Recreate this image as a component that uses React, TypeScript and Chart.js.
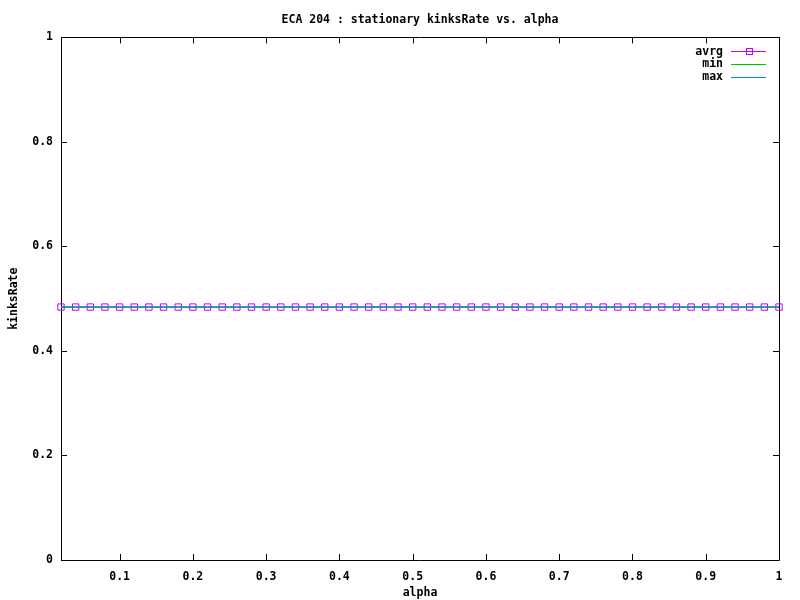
import { useEffect, useRef } from "react";
import { Chart, registerables } from "chart.js";

Chart.register(...registerables);

const titleText = "ECA 204 : stationary kinksRate vs. alpha";
const xTitle = "alpha";
const yTitle = "kinksRate";

const alpha = [
  0.02, 0.04, 0.06, 0.08, 0.1, 0.12, 0.14, 0.16, 0.18, 0.2,
  0.22, 0.24, 0.26, 0.28, 0.3, 0.32, 0.34, 0.36, 0.38, 0.4,
  0.42, 0.44, 0.46, 0.48, 0.5, 0.52, 0.54, 0.56, 0.58, 0.6,
  0.62, 0.64, 0.66, 0.68, 0.7, 0.72, 0.74, 0.76, 0.78, 0.8,
  0.82, 0.84, 0.86, 0.88, 0.9, 0.92, 0.94, 0.96, 0.98, 1.0,
];

const avrgValues = [
  0.484, 0.484, 0.484, 0.484, 0.484, 0.484, 0.484, 0.484, 0.484, 0.484,
  0.484, 0.484, 0.484, 0.484, 0.484, 0.484, 0.484, 0.484, 0.484, 0.484,
  0.484, 0.484, 0.484, 0.484, 0.484, 0.484, 0.484, 0.484, 0.484, 0.484,
  0.484, 0.484, 0.484, 0.484, 0.484, 0.484, 0.484, 0.484, 0.484, 0.484,
  0.484, 0.484, 0.484, 0.484, 0.484, 0.484, 0.484, 0.484, 0.484, 0.484,
];

const minValues = [
  0.484, 0.484, 0.484, 0.484, 0.484, 0.484, 0.484, 0.484, 0.484, 0.484,
  0.484, 0.484, 0.484, 0.484, 0.484, 0.484, 0.484, 0.484, 0.484, 0.484,
  0.484, 0.484, 0.484, 0.484, 0.484, 0.484, 0.484, 0.484, 0.484, 0.484,
  0.484, 0.484, 0.484, 0.484, 0.484, 0.484, 0.484, 0.484, 0.484, 0.484,
  0.484, 0.484, 0.484, 0.484, 0.484, 0.484, 0.484, 0.484, 0.484, 0.484,
];

const maxValues = [
  0.484, 0.484, 0.484, 0.484, 0.484, 0.484, 0.484, 0.484, 0.484, 0.484,
  0.484, 0.484, 0.484, 0.484, 0.484, 0.484, 0.484, 0.484, 0.484, 0.484,
  0.484, 0.484, 0.484, 0.484, 0.484, 0.484, 0.484, 0.484, 0.484, 0.484,
  0.484, 0.484, 0.484, 0.484, 0.484, 0.484, 0.484, 0.484, 0.484, 0.484,
  0.484, 0.484, 0.484, 0.484, 0.484, 0.484, 0.484, 0.484, 0.484, 0.484,
];

const xTickValues = [0.1, 0.2, 0.3, 0.4, 0.5, 0.6, 0.7, 0.8, 0.9, 1];
const xTickLabels = ["0.1", "0.2", "0.3", "0.4", "0.5", "0.6", "0.7", "0.8", "0.9", "1"];
const yTickValues = [0, 0.2, 0.4, 0.6, 0.8, 1];
const yTickLabels = ["0", "0.2", "0.4", "0.6", "0.8", "1"];

const seriesNames = ["avrg", "min", "max"];
const seriesColors = ["#c000ff", "#00c000", "#0080ff"];

const FONT_FAMILY = "'DejaVu Sans Mono', 'Liberation Mono', monospace";
const FONT_SIZE = 11.5;

const framePlugin = {
  id: "frame",
  beforeDatasetsDraw(chart: any) {
    const { ctx, chartArea } = chart;
    const { left, right, top, bottom } = chartArea;
    ctx.save();
    ctx.strokeStyle = "#000";
    ctx.lineWidth = 1;
    ctx.beginPath();
    ctx.rect(Math.round(left) + 0.5, Math.round(top) + 0.5, Math.round(right) - Math.round(left), Math.round(bottom) - Math.round(top));
    ctx.stroke();
    const tl = 6;
    const xs = chart.scales.x;
    const ys = chart.scales.y;
    ctx.beginPath();
    xs.ticks.forEach((t: any) => {
      const px = Math.round(xs.getPixelForValue(t.value)) + 0.5;
      ctx.moveTo(px, bottom);
      ctx.lineTo(px, bottom - tl);
      ctx.moveTo(px, top);
      ctx.lineTo(px, top + tl);
    });
    ys.ticks.forEach((t: any) => {
      const py = Math.round(ys.getPixelForValue(t.value)) + 0.5;
      ctx.moveTo(left, py);
      ctx.lineTo(left + tl, py);
      ctx.moveTo(right, py);
      ctx.lineTo(right - tl, py);
    });
    ctx.stroke();
    ctx.restore();
  },
};

const legendPlugin = {
  id: "gpLegend",
  afterDatasetsDraw(chart: any) {
    const { ctx } = chart;
    const textRight = 723;
    const lineStart = 731;
    const lineEnd = 766;
    const rowY = [51, 63.5, 76.5];
    ctx.save();
    ctx.font = `bold ${FONT_SIZE}px ${FONT_FAMILY}`;
    ctx.textAlign = "right";
    ctx.textBaseline = "middle";
    seriesNames.forEach((name, i) => {
      const y = rowY[i];
      ctx.fillStyle = "#000";
      ctx.fillText(name, textRight, y + 1);
      ctx.strokeStyle = seriesColors[i];
      ctx.lineWidth = 1;
      ctx.beginPath();
      ctx.moveTo(lineStart, Math.round(y) + 0.5);
      ctx.lineTo(lineEnd, Math.round(y) + 0.5);
      ctx.stroke();
      if (i === 0) {
        const cx = Math.round((lineStart + lineEnd) / 2);
        ctx.strokeRect(cx - 3 + 0.5, Math.round(y) - 3 + 0.5, 6, 6);
      }
    });
    ctx.restore();
  },
};

export default function App() {
  const canvasRef = useRef<HTMLCanvasElement | null>(null);

  useEffect(() => {
    const canvas = canvasRef.current;
    if (!canvas) return;
    const mk = (vals: number[]) => alpha.map((a, i) => ({ x: a, y: vals[i] }));
    const font = { family: FONT_FAMILY, size: FONT_SIZE, weight: "bold" as const };
    const chart = new Chart(canvas, {
      type: "line",
      data: {
        datasets: [
          {
            label: seriesNames[0],
            data: mk(avrgValues),
            borderColor: seriesColors[0],
            backgroundColor: "rgba(0,0,0,0)",
            borderWidth: 1,
            pointStyle: "rect",
            pointRadius: 4.5,
            pointBorderWidth: 1,
            pointBorderColor: seriesColors[0],
            pointBackgroundColor: "rgba(0,0,0,0)",
            clip: false as any,
            order: 3,
          },
          {
            label: seriesNames[1],
            data: mk(minValues),
            borderColor: seriesColors[1],
            borderWidth: 1,
            pointRadius: 0,
            order: 2,
          },
          {
            label: seriesNames[2],
            data: mk(maxValues),
            borderColor: seriesColors[2],
            borderWidth: 1,
            pointRadius: 0,
            order: 1,
          },
        ],
      },
      options: {
        animation: false,
        responsive: false,
        maintainAspectRatio: false,
        layout: { padding: { left: 0, right: 21, top: 0, bottom: 0 } },
        plugins: {
          legend: { display: false },
          tooltip: { enabled: false },
          title: {
            display: true,
            text: titleText,
            fullSize: false,
            color: "#000",
            font,
            padding: { top: 13, bottom: 10.6 },
          },
        },
        scales: {
          x: {
            type: "linear",
            min: 0.02,
            max: 1,
            grid: { display: false, drawTicks: false },
            border: { display: false },
            afterBuildTicks: (axis: any) => {
              axis.ticks = xTickValues.map((v) => ({ value: v }));
            },
            afterFit: (axis: any) => {
              axis.height = 40;
            },
            ticks: {
              color: "#000",
              font,
              padding: 10,
              maxRotation: 0,
              autoSkip: false,
              callback: (v: any) => {
                const i = xTickValues.findIndex((t) => Math.abs(t - Number(v)) < 1e-9);
                return i >= 0 ? xTickLabels[i] : "";
              },
            },
            title: {
              display: true,
              text: xTitle,
              color: "#000",
              font,
              padding: { top: 0, bottom: 0 },
            },
          },
          y: {
            type: "linear",
            min: 0,
            max: 1,
            grid: { display: false, drawTicks: false },
            border: { display: false },
            afterBuildTicks: (axis: any) => {
              axis.ticks = yTickValues.map((v) => ({ value: v }));
            },
            afterFit: (axis: any) => {
              axis.width = 61;
            },
            ticks: {
              color: "#000",
              font,
              padding: 8,
              autoSkip: false,
              callback: (v: any) => {
                const i = yTickValues.findIndex((t) => Math.abs(t - Number(v)) < 1e-9);
                return i >= 0 ? yTickLabels[i] : "";
              },
            },
            title: {
              display: true,
              text: yTitle,
              color: "#000",
              font,
              padding: { top: 7, bottom: 0 },
            },
          },
        },
      },
      plugins: [framePlugin, legendPlugin],
    });
    return () => chart.destroy();
  }, []);

  return (
    <div style={{ position: "fixed", left: 0, top: 0, width: 800, height: 600, background: "#fff" }}>
      <canvas ref={canvasRef} width={800} height={600} style={{ display: "block", width: 800, height: 600 }} />
    </div>
  );
}
